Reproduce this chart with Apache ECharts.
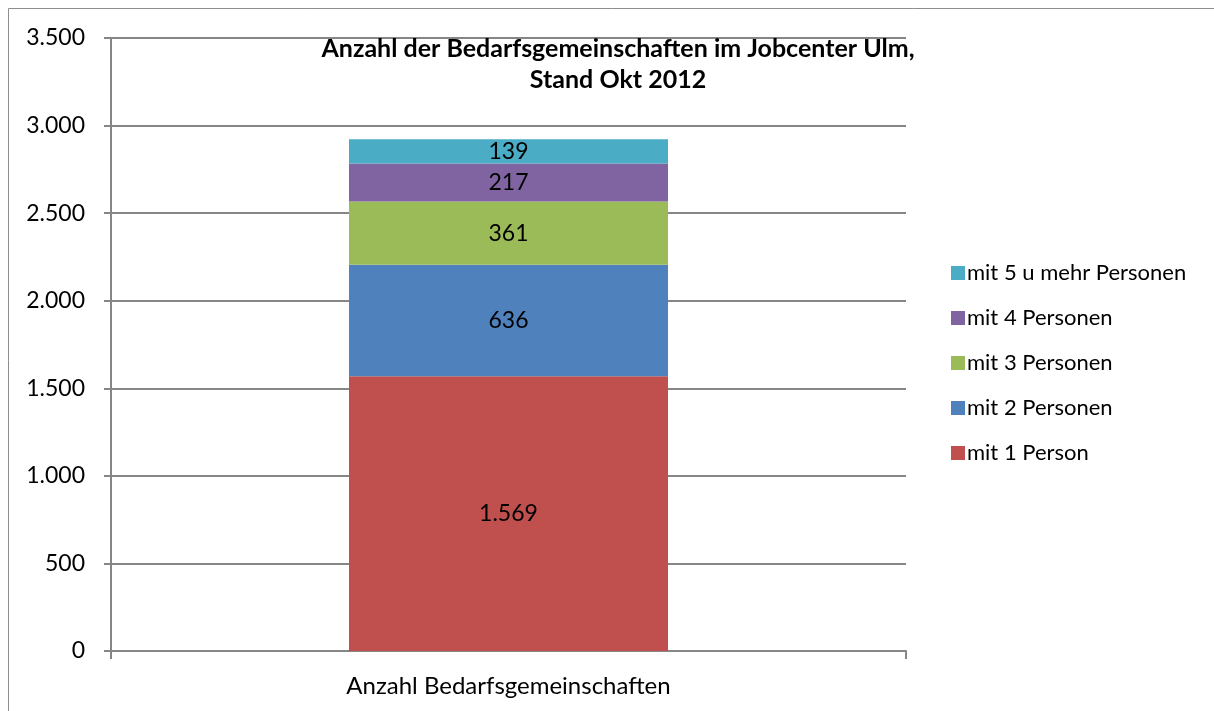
<!DOCTYPE html>
<html>
<head>
<meta charset="utf-8">
<script src="https://cdn.jsdelivr.net/npm/echarts@6/dist/echarts.min.js"></script>
<style>html,body{margin:0;padding:0;background:#fff}#c{width:1214px;height:711px}</style>
</head>
<body>
<div id="c"></div>
<script>
const categories = ['Anzahl Bedarfsgemeinschaften'];
const seriesNames = ['mit 1 Person', 'mit 2 Personen', 'mit 3 Personen', 'mit 4 Personen', 'mit 5 u mehr Personen'];
const seriesValues = [[1569], [636], [361], [217], [139]];
const seriesColors = ['#C0504D', '#4F81BD', '#9BBB59', '#8064A2', '#4BACC6'];
const titleText = 'Anzahl der Bedarfsgemeinschaften im Jobcenter Ulm,\nStand Okt 2012';

const fmt = v => String(v).replace(/\B(?=(\d{3})+(?!\d))/g, '.');
const FONT = 'Lato, "Open Sans", sans-serif';

const chart = echarts.init(document.getElementById('c'), null, {renderer: 'canvas'});
chart.setOption({
  animation: false,
  backgroundColor: '#fff',
  graphic: [{
    type: 'rect', shape: {x: 8.5, y: 8.5, width: 1400, height: 900},
    style: {fill: null, stroke: '#8e8e8e', lineWidth: 1}, z: -1
  }],
  title: {
    text: titleText, left: 613, top: 28, textAlign: 'center',
    textStyle: {fontFamily: FONT, fontWeight: 'bold', fontSize: 25, color: '#000', lineHeight: 31}
  },
  legend: {
    orient: 'vertical', left: 946, top: 257, itemWidth: 14, itemHeight: 14, itemGap: 23,
    data: seriesNames.slice().reverse(),
    textStyle: {fontFamily: FONT, fontSize: 22, color: '#000', padding: [0, 0, 0, -3]},
    icon: 'rect'
  },
  grid: {left: 111, right: 308, top: 38, bottom: 60},
  xAxis: {
    type: 'category', data: categories,
    axisLine: {lineStyle: {color: '#868686', width: 2}},
    axisTick: {show: true, length: 8, lineStyle: {color: '#868686', width: 2}},
    axisLabel: {fontFamily: FONT, fontSize: 24, color: '#000', margin: 23}
  },
  yAxis: {
    type: 'value', min: 0, max: 3500, interval: 500,
    axisLine: {show: true, lineStyle: {color: '#868686', width: 2}},
    axisTick: {show: true, length: 7, lineStyle: {color: '#868686', width: 2}},
    splitLine: {lineStyle: {color: '#868686', width: 2}},
    axisLabel: {fontFamily: FONT, fontSize: 23, color: '#000', margin: 26, formatter: v => fmt(v)}
  },
  series: seriesNames.map((n, i) => ({
    name: n, type: 'bar', stack: 'total', barWidth: 319,
    data: seriesValues[i],
    itemStyle: {color: seriesColors[i]},
    label: {show: true, position: 'inside', fontFamily: FONT, fontSize: 23, color: '#000', formatter: p => fmt(p.value)}
  }))
});
</script>
</body>
</html>
